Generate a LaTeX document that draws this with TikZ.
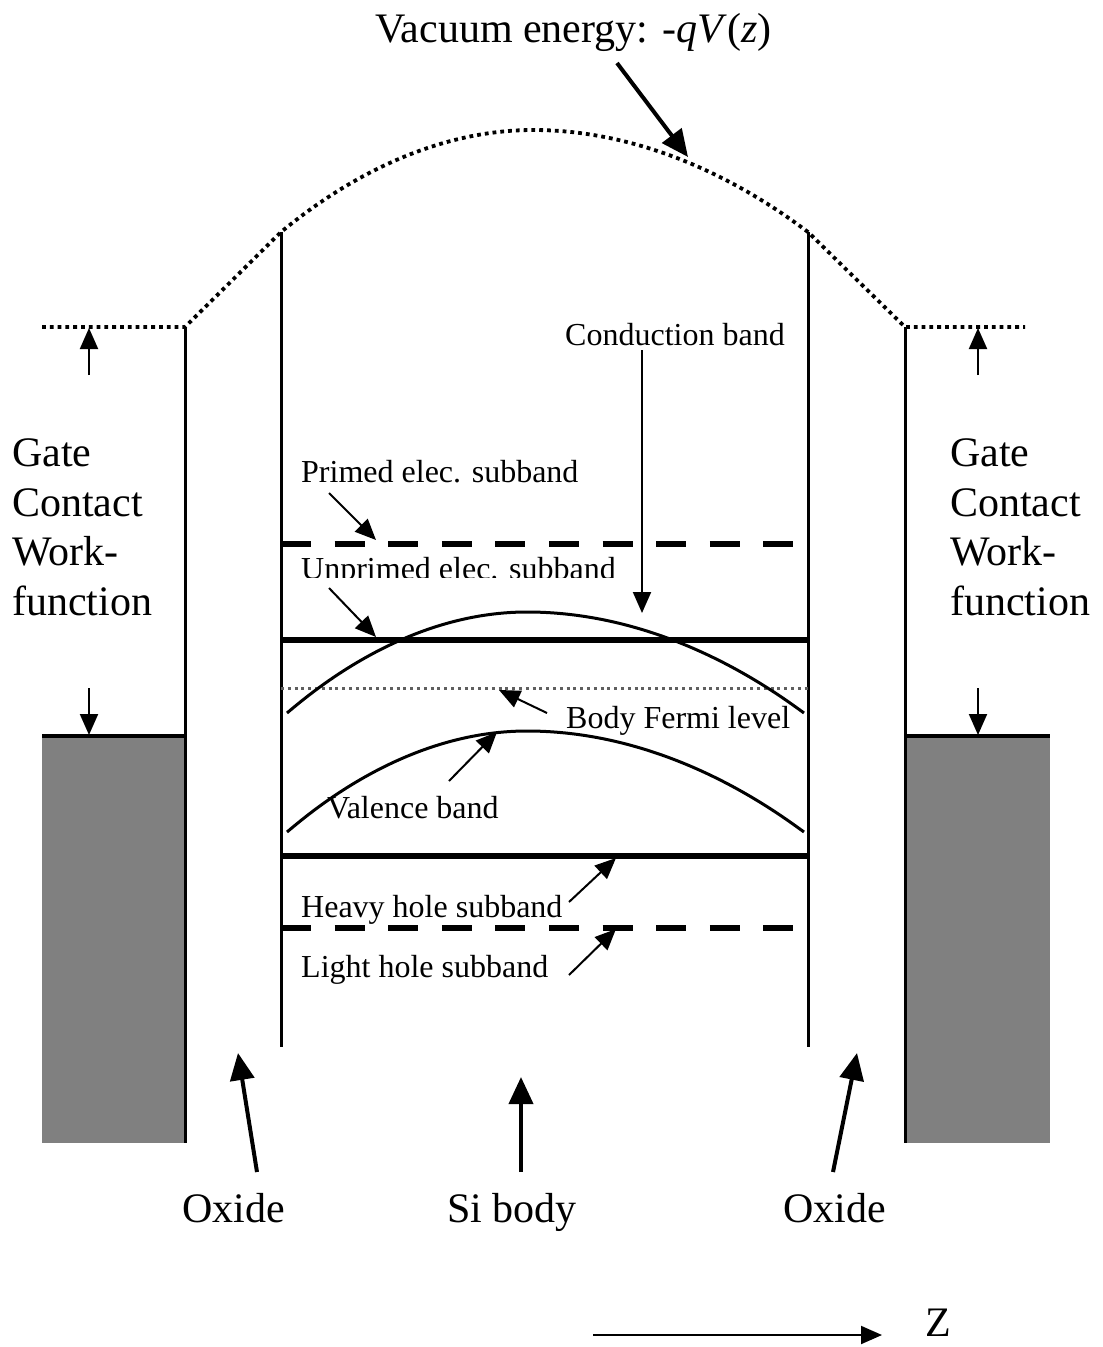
\documentclass[tikz,border=0pt]{standalone}
\usepackage{fontspec}
\setmainfont{Liberation Serif}
\usetikzlibrary{arrows.meta}
\definecolor{gategray}{RGB}{128,128,128}
\definecolor{fermigray}{RGB}{95,95,95}

\begin{document}
\begin{tikzpicture}[x=1pt, y=-1pt,
  big/.style={font=\fontsize{42}{49.5}\selectfont, inner sep=0pt, anchor=base west},
  small/.style={font=\fontsize{32}{38}\selectfont, inner sep=0pt, anchor=base west},
  wall/.style={line width=3pt},
  band/.style={line width=6pt},
  subdash/.style={line width=6pt, dash pattern=on 30pt off 23.6pt},
  vacdot/.style={line width=3.8pt, dash pattern=on 3.8pt off 4pt},
  fermidot/.style={fermigray, line width=3pt, dash pattern=on 3pt off 3.8pt},
  curve/.style={line width=3pt},
  thin arrow/.style={line width=2pt, -{Triangle[length=21pt,width=18pt]}},
  thick arrow/.style={line width=4pt, -{Triangle[length=27pt,width=24pt]}}]
\useasboundingbox (0,0) rectangle (1103,1347);

% gate contacts
\fill[gategray] (42,736) rectangle (185,1143);
\fill[gategray] (905,736) rectangle (1050,1143);
\draw[line width=4pt] (42,736) -- (185,736);
\draw[line width=4pt] (905,736) -- (1050,736);
\draw[wall] (185,327) -- (185,1143);
\draw[wall] (905,327) -- (905,1143);

% silicon body walls
\draw[wall] (281,232) -- (281,1047);
\draw[wall] (808,232) -- (808,1047);

% vacuum level
\draw[vacdot] (42,327) -- (185,327) -- (281,232) parabola bend (533,130) (808,232) -- (905,327) -- (1025,327);

% subbands and bands
\draw[subdash] (281,544) -- (795,544);
\draw[band] (281,640) -- (808,640);
\draw[fermidot] (281,688) -- (808,688);
\draw[band] (281,856) -- (808,856);
\draw[subdash] (281,928) -- (795,928);
\draw[curve] (287,713) parabola bend (527,612) (804,713);
\draw[curve] (287,832) parabola bend (527,731) (804,832);

% labels
\node[big] (vac) at (375,42) {Vacuum energy: -\textit{q}\textit{V}(\textit{z})};
\node[big, align=left] (gateL) at (12,615) {Gate\\Contact\\Work-\\function};
\node[big, align=left] (gateR) at (950,615) {Gate\\Contact\\Work-\\function};
\node[small] (cb) at (565,345) {Conduction band};
\node[small] (primed) at (301,482) {Primed elec. subband};
\begin{scope}
\clip (290,540) rectangle (640,577);
\node[small] (unprimed) at (301,579) {Unprimed elec. subband};
\end{scope}
\node[small] (fermi) at (566,728) {Body Fermi level};
\node[small] (val) at (327,818) {Valence band};
\node[small] (heavy) at (301,917) {Heavy hole subband};
\node[small] (light) at (301,977) {Light hole subband};
\node[big] (oxL) at (182,1222) {Oxide};
\node[big] (si) at (447,1222) {Si body};
\node[big] (oxR) at (783,1222) {Oxide};
\node[big] (zlab) at (925,1336) {Z};

% arrow ends
\coordinate (vacS) at (617,63);    \coordinate (vacE) at (688,157);
\coordinate (cbS) at (642,350);    \coordinate (cbE) at (642,613);
\coordinate (prS) at (329,493);    \coordinate (prE) at (376,540);
\coordinate (unS) at (329,588);    \coordinate (unE) at (376,637);
\coordinate (feS) at (547,713);    \coordinate (feE) at (499,690);
\coordinate (vaS) at (449,781);    \coordinate (vaE) at (497,732);
\coordinate (hhS) at (569,902);    \coordinate (hhE) at (616,858);
\coordinate (lhS) at (569,975);    \coordinate (lhE) at (616,929);
\coordinate (gLtS) at (89,375);    \coordinate (gLtE) at (89,328);
\coordinate (gLbS) at (89,688);    \coordinate (gLbE) at (89,735);
\coordinate (gRtS) at (978,375);   \coordinate (gRtE) at (978,328);
\coordinate (gRbS) at (978,688);   \coordinate (gRbE) at (978,735);
\coordinate (oxLS) at (257,1172);  \coordinate (oxLE) at (238,1053);
\coordinate (siS) at (521,1172);   \coordinate (siE) at (521,1077);
\coordinate (oxRS) at (833,1172);  \coordinate (oxRE) at (857,1053);
\coordinate (zS) at (593,1335);    \coordinate (zE) at (882,1335);

\draw[thick arrow] (vacS) -- (vacE);
\draw[thin arrow] (cbS) -- (cbE);
\draw[thin arrow] (prS) -- (prE);
\draw[thin arrow] (unS) -- (unE);
\draw[thin arrow] (feS) -- (feE);
\draw[thin arrow] (vaS) -- (vaE);
\draw[thin arrow] (hhS) -- (hhE);
\draw[thin arrow] (lhS) -- (lhE);
\draw[thin arrow] (gLtS) -- (gLtE);
\draw[thin arrow] (gLbS) -- (gLbE);
\draw[thin arrow] (gRtS) -- (gRtE);
\draw[thin arrow] (gRbS) -- (gRbE);
\draw[thick arrow] (oxLS) -- (oxLE);
\draw[thick arrow] (siS) -- (siE);
\draw[thick arrow] (oxRS) -- (oxRE);
\draw[thin arrow] (zS) -- (zE);

\end{tikzpicture}
\end{document}
